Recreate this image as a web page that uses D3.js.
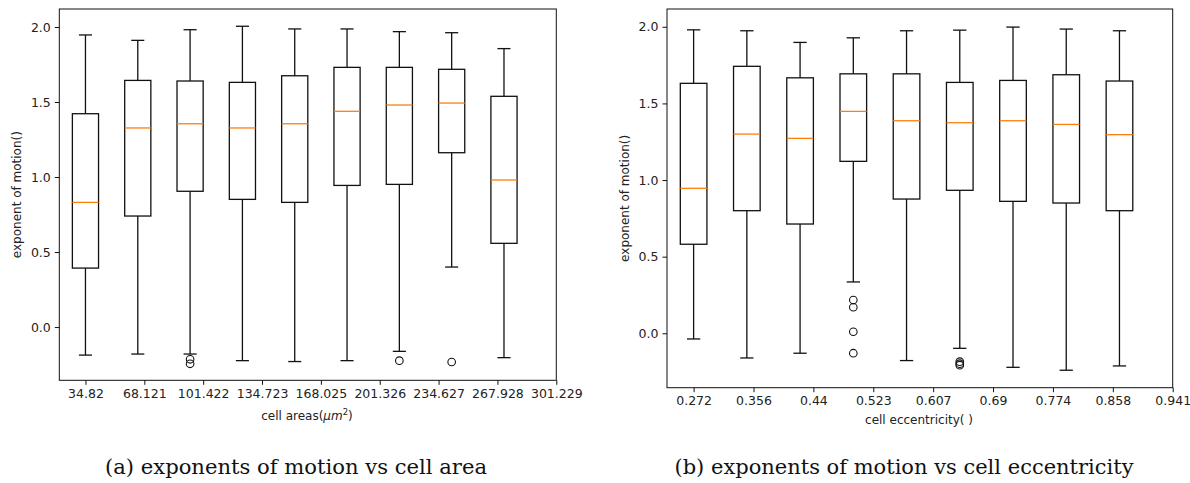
<!DOCTYPE html>
<html>
<head>
<meta charset="utf-8">
<script src="https://cdn.jsdelivr.net/npm/d3@7/dist/d3.min.js"></script>
<style>
  html, body { margin: 0; padding: 0; background: #fff; }
  svg { display: block; }
</style>
</head>
<body>
<svg id="chart" width="1190" height="483"></svg>
<script>
// ---------- data: panel (a) exponents of motion vs cell area ----------
const areaTickLabels = ["34.82", "68.121", "101.422", "134.723", "168.025", "201.326", "234.627", "267.928", "301.229"];
const areaWhiskerHigh = [1.947, 1.911, 1.982, 2.005, 1.987, 1.987, 1.969, 1.962, 1.856];
const areaQ3          = [1.422, 1.644, 1.640, 1.631, 1.675, 1.731, 1.731, 1.718, 1.538];
const areaMedian      = [0.831, 1.327, 1.355, 1.327, 1.355, 1.438, 1.480, 1.493, 0.980];
const areaQ1          = [0.393, 0.740, 0.905, 0.851, 0.831, 0.944, 0.951, 1.162, 0.558];
const areaWhiskerLow  = [-0.187, -0.180, -0.180, -0.224, -0.230, -0.224, -0.162, 0.400, -0.204];
const areaOutliers    = [[], [], [-0.215, -0.245], [], [], [], [-0.224], [-0.233], []];

// ---------- data: panel (b) exponents of motion vs cell eccentricity ----------
const eccTickLabels = ["0.272", "0.356", "0.44", "0.523", "0.607", "0.69", "0.774", "0.858", "0.941"];
const eccWhiskerHigh = [1.980, 1.974, 1.898, 1.928, 1.974, 1.978, 1.998, 1.985, 1.974];
const eccQ3          = [1.631, 1.742, 1.667, 1.693, 1.693, 1.637, 1.650, 1.687, 1.646];
const eccMedian      = [0.946, 1.300, 1.272, 1.448, 1.387, 1.374, 1.387, 1.363, 1.296];
const eccQ1          = [0.581, 0.800, 0.713, 1.122, 0.876, 0.933, 0.861, 0.850, 0.800];
const eccWhiskerLow  = [-0.037, -0.161, -0.130, 0.335, -0.178, -0.098, -0.222, -0.241, -0.213];
const eccOutliers    = [[], [], [], [0.217, 0.170, 0.010, -0.130], [], [-0.185, -0.198, -0.208], [], [], []];

const yTickValues = [0.0, 0.5, 1.0, 1.5, 2.0];

const svg = d3.select("#chart");
const TICK_FONT = "'DejaVu Sans', sans-serif";

function drawPanel(p) {
  const x = d3.scaleLinear().domain([0.5, 10]).range([p.left, p.right]);
  const y = d3.scaleLinear().domain(p.yDomain).range([p.bottom, p.top]);
  const g = svg.append("g");

  const n = p.median.length;
  const boxes = d3.range(n).map(i => ({
    pos: i + 1, hi: p.hi[i], q3: p.q3[i], med: p.median[i], q1: p.q1[i], lo: p.lo[i], out: p.outliers[i]
  }));
  const halfW = 0.25, capHalf = 0.125;

  const bg = g.selectAll("g.box").data(boxes).join("g").attr("class", "box");
  // whiskers
  bg.append("line")
    .attr("x1", d => x(d.pos)).attr("x2", d => x(d.pos))
    .attr("y1", d => y(d.q3)).attr("y2", d => y(d.hi))
    .attr("stroke", "#111").attr("stroke-width", 1.3);
  bg.append("line")
    .attr("x1", d => x(d.pos)).attr("x2", d => x(d.pos))
    .attr("y1", d => y(d.q1)).attr("y2", d => y(d.lo))
    .attr("stroke", "#111").attr("stroke-width", 1.3);
  // caps
  bg.append("line")
    .attr("x1", d => x(d.pos - capHalf)).attr("x2", d => x(d.pos + capHalf))
    .attr("y1", d => y(d.hi)).attr("y2", d => y(d.hi))
    .attr("stroke", "#111").attr("stroke-width", 1.3);
  bg.append("line")
    .attr("x1", d => x(d.pos - capHalf)).attr("x2", d => x(d.pos + capHalf))
    .attr("y1", d => y(d.lo)).attr("y2", d => y(d.lo))
    .attr("stroke", "#111").attr("stroke-width", 1.3);
  // box
  bg.append("rect")
    .attr("x", d => x(d.pos - halfW)).attr("width", d => x(d.pos + halfW) - x(d.pos - halfW))
    .attr("y", d => y(d.q3)).attr("height", d => y(d.q1) - y(d.q3))
    .attr("fill", "none").attr("stroke", "#111").attr("stroke-width", 1.3);
  // median
  bg.append("line")
    .attr("x1", d => x(d.pos - halfW)).attr("x2", d => x(d.pos + halfW))
    .attr("y1", d => y(d.med)).attr("y2", d => y(d.med))
    .attr("stroke", "#ff7f0e").attr("stroke-width", 1.3);
  // outliers
  bg.selectAll("circle").data(d => d.out.map(v => ({ pos: d.pos, v }))).join("circle")
    .attr("cx", d => x(d.pos)).attr("cy", d => y(d.v)).attr("r", 3.8)
    .attr("fill", "none").attr("stroke", "#111").attr("stroke-width", 1.1);

  // frame
  g.append("rect")
    .attr("x", p.left).attr("y", p.top)
    .attr("width", p.right - p.left).attr("height", p.bottom - p.top)
    .attr("fill", "none").attr("stroke", "#111").attr("stroke-width", 1);

  // x axis
  const xTickPos = d3.range(p.tickLabels.length).map(i => 1 + i * 9 / 8);
  const xAxis = d3.axisBottom(x).tickValues(xTickPos)
    .tickFormat((d, i) => p.tickLabels[i]).tickSize(4.5).tickPadding(4);
  const gx = g.append("g").attr("transform", `translate(0,${p.bottom})`).call(xAxis);
  gx.select(".domain").remove();
  gx.selectAll(".tick line").attr("stroke", "#111");
  gx.selectAll(".tick text").attr("fill", "#222").style("font-family", TICK_FONT).style("font-size", "12.5px");

  // y axis
  const yAxis = d3.axisLeft(y).tickValues(yTickValues).tickFormat(d3.format(".1f")).tickSize(4.5).tickPadding(4);
  const gy = g.append("g").attr("transform", `translate(${p.left},0)`).call(yAxis);
  gy.select(".domain").remove();
  gy.selectAll(".tick line").attr("stroke", "#111");
  gy.selectAll(".tick text").attr("fill", "#222").style("font-family", TICK_FONT).style("font-size", "12.5px");

  // y label
  g.append("text")
    .attr("transform", `translate(${p.yLabelX},${(p.top + p.bottom) / 2}) rotate(-90)`)
    .attr("text-anchor", "middle").attr("dominant-baseline", "central")
    .attr("fill", "#222").style("font-family", TICK_FONT).style("font-size", "12px")
    .text("exponent of motion()");

  // x label
  const xl = g.append("text")
    .attr("x", p.xLabelX).attr("y", p.xLabelY)
    .attr("text-anchor", "middle").attr("fill", "#222")
    .style("font-family", TICK_FONT).style("font-size", "12px");
  p.xLabel(xl);

  // caption
  svg.append("text")
    .attr("x", p.capX).attr("y", 473.5)
    .attr("text-anchor", "middle").attr("fill", "#111")
    .attr("textLength", p.capW).attr("lengthAdjust", "spacingAndGlyphs")
    .style("font-family", "'DejaVu Serif', serif").style("font-size", "20px")
    .text(p.caption);
}

drawPanel({
  left: 59.3, right: 556.3, top: 9, bottom: 380.3,
  yDomain: [-0.355, 2.12],
  tickLabels: areaTickLabels,
  hi: areaWhiskerHigh, q3: areaQ3, median: areaMedian, q1: areaQ1, lo: areaWhiskerLow, outliers: areaOutliers,
  yLabelX: 17, xLabelX: 307, xLabelY: 420,
  xLabel: t => {
    t.append("tspan").text("cell areas(");
    t.append("tspan").style("font-style", "italic").text("μm");
    t.append("tspan").attr("dy", -5).style("font-size", "8.5px").text("2");
    t.append("tspan").attr("dy", 5).text(")");
  },
  capX: 296, capW: 382, caption: "(a) exponents of motion vs cell area"
});

drawPanel({
  left: 667, right: 1172.7, top: 9, bottom: 387.7,
  yDomain: [-0.355, 2.116],
  tickLabels: eccTickLabels,
  hi: eccWhiskerHigh, q3: eccQ3, median: eccMedian, q1: eccQ1, lo: eccWhiskerLow, outliers: eccOutliers,
  yLabelX: 625, xLabelX: 919, xLabelY: 424,
  xLabel: t => { t.text("cell eccentricity( )"); },
  capX: 904, capW: 459, caption: "(b) exponents of motion vs cell eccentricity"
});
</script>
</body>
</html>
